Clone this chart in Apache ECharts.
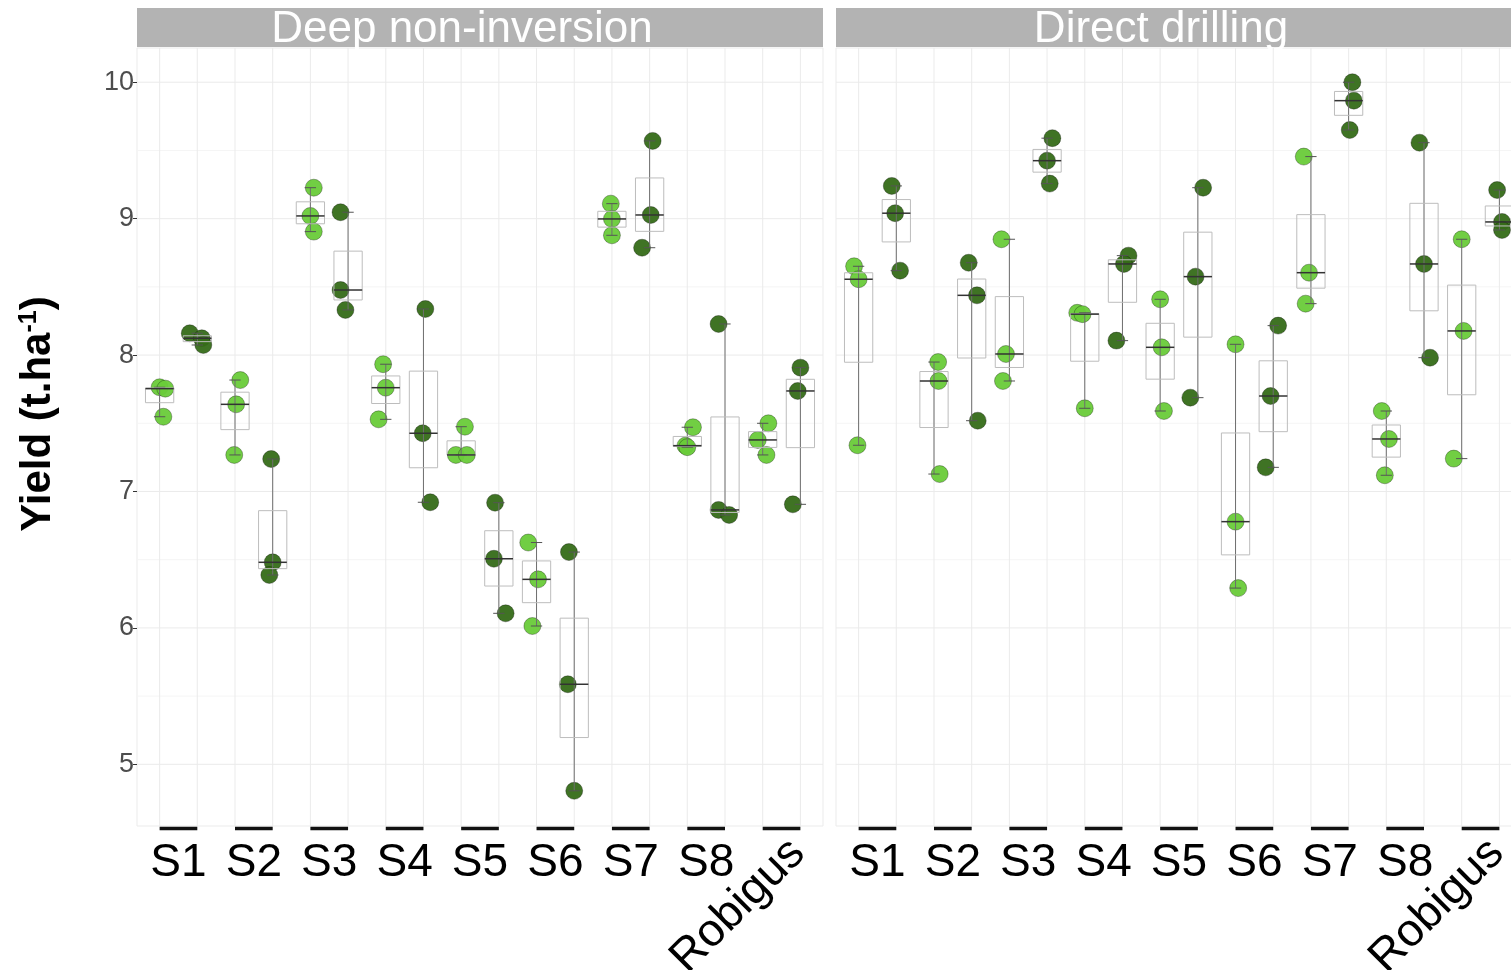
<!DOCTYPE html>
<html><head><meta charset="utf-8">
<script src="https://cdn.jsdelivr.net/npm/echarts@6/dist/echarts.min.js"></script>
<style>html,body{margin:0;padding:0;background:#fff}#c{width:1511px;height:970px}</style>
</head><body><div id="c"></div>
<script>
// ---------------- DATA ----------------
const genotypes = ['S1','S2','S3','S4','S5','S6','S7','S8','Robigus'];
const panelTitles = ['Deep non-inversion','Direct drilling'];
const yTicks = [5,6,7,8,9,10];
const yMinor = [5.5,6.5,7.5,8.5,9.5];

// Deep non-inversion: light-green group and dark-green group (3 plots each)
const dniLight = [
  [7.764,7.754,7.548],[7.817,7.639,7.268],[9.227,9.020,8.905],
  [7.933,7.761,7.529],[7.475,7.268,7.268],[6.626,6.356,6.014],
  [9.110,8.998,8.878],[7.471,7.336,7.325],[7.500,7.378,7.268]
];
const dniLightJitter = [
  [0,0.15,0.10],[0.14,0.03,-0.02],[0.09,0,0.09],[-0.07,0,-0.19],[0.10,-0.14,0.15],
  [-0.22,0.04,-0.11],[-0.03,0,0],[0.15,-0.05,0],[0.15,-0.13,0.10]
];
const dniDark = [
  [8.160,8.123,8.074],[7.238,6.481,6.388],[9.047,8.477,8.331],
  [8.338,7.427,6.921],[6.918,6.507,6.107],[6.556,5.587,4.806],
  [9.570,9.027,8.787],[8.228,6.865,6.828],[7.908,7.737,6.906]
];
const dniDarkJitter = [
  [-0.20,0.12,0.16],[-0.04,0,-0.09],[-0.20,-0.20,-0.07],[0.05,-0.02,0.18],[-0.10,-0.13,0.18],
  [-0.14,-0.17,0],[0.08,0.03,-0.20],[-0.17,-0.17,0.11],[0,-0.07,-0.20]
];

// Direct drilling
const ddLight = [
  [8.651,8.556,7.339],[7.949,7.810,7.128],[8.849,8.008,7.810],
  [8.310,8.300,7.610],[8.409,8.057,7.590],[8.079,6.779,6.292],
  [9.455,8.604,8.377],[7.590,7.385,7.119],[8.849,8.177,7.241]
];
const ddLightJitter = [
  [-0.12,0,-0.03],[0.11,0.12,0.15],[-0.21,-0.09,-0.17],[-0.20,-0.06,0],[0,0.04,0.10],
  [0,0,0.07],[-0.19,-0.05,-0.14],[-0.12,0.07,-0.04],[0,0.05,-0.21]
];
const ddDark = [
  [9.240,9.040,8.619],[8.677,8.438,7.519],[9.590,9.425,9.257],
  [8.729,8.668,8.106],[9.227,8.575,7.688],[8.216,7.700,7.177],
  [10.000,9.865,9.650],[9.557,8.668,7.981],[9.210,8.976,8.917]
];
const ddDarkJitter = [
  [-0.12,-0.03,0.10],[-0.08,0.14,0.16],[0.14,0,0.07],[0.16,0.04,-0.16],[0.14,-0.06,-0.20],
  [0.13,-0.07,-0.20],[0.10,0.14,0.03],[-0.12,0,0.16],[-0.06,0.07,0.07]
];

// ---------------- CHART ----------------
const FONT = '"Liberation Sans", Arial, Helvetica, sans-serif';
const LIGHT = '#69cb39', DARK = '#356c18';
const X_MIN = 0.4, X_MAX = 18.6, Y_MIN = 4.548, Y_MAX = 10.251;
const panels = [
  {light: dniLight, lightJ: dniLightJitter, dark: dniDark, darkJ: dniDarkJitter},
  {light: ddLight, lightJ: ddLightJitter, dark: ddDark, darkJ: ddDarkJitter}
];
const gridRects = [{left:137, top:48, width:686, height:778},{left:836, top:48, width:686, height:778}];

function quant(s, p){ const h=(s.length-1)*p, lo=Math.floor(h), hi=Math.ceil(h); return s[lo]+(h-lo)*(s[hi]-s[lo]); }
function boxStats(vals){ const s=[...vals].sort((a,b)=>a-b); return [s[0],quant(s,.25),quant(s,.5),quant(s,.75),s[s.length-1]]; }

const pairCenters = genotypes.map((g,k)=>2*k+1.5);
const positions = genotypes.flatMap((g,k)=>[2*k+1, 2*k+2]);

const grid=[], xAxis=[], yAxis=[], series=[];
panels.forEach((P,i)=>{
  grid.push(Object.assign({show:true, borderColor:'#ebebeb', borderWidth:1, backgroundColor:'#ffffff',
    outerBoundsMode:'none', containLabel:false}, gridRects[i]));
  xAxis.push({gridIndex:i, type:'value', min:X_MIN, max:X_MAX, position:'bottom',
    axisLine:{show:false}, axisTick:{show:false}, splitLine:{show:false},
    axisLabel:{customValues: pairCenters.slice(0,8), formatter: v=>genotypes[Math.round((v-1.5)/2)],
      fontSize:46, color:'#000', fontFamily:FONT, margin:14}});
  xAxis.push({gridIndex:i, type:'value', min:X_MIN, max:X_MAX, position:'bottom', offset:0,
    axisLine:{show:false}, axisTick:{show:false}, splitLine:{show:false},
    axisLabel:{customValues: pairCenters.slice(8), formatter: ()=>genotypes[8],
      rotate:45, verticalAlign:'top', fontSize:46, color:'#000', fontFamily:FONT, margin:4}});
  const y = {gridIndex:i, type:'value', min:Y_MIN, max:Y_MAX,
    axisLine:{show:false}, splitLine:{show:false},
    axisTick:{show:i===0, customValues:yTicks, length:4, lineStyle:{color:'#333', width:1}},
    axisLabel:{show:i===0, customValues:yTicks, fontSize:27, color:'#4d4d4d', fontFamily:FONT, margin:3}};
  if(i===0){
    Object.assign(y,{name:'Yield (t.ha{sup|-1})', nameLocation:'middle', nameGap:78,
      nameTextStyle:{fontSize:42, fontWeight:'bold', color:'#000', fontFamily:FONT, padding:[0,0,0,46],
        rich:{sup:{fontSize:25, fontWeight:'bold', color:'#000', fontFamily:FONT, verticalAlign:'top'}}}});
  }
  yAxis.push(y);

  // grid lines
  const gl = yTicks.map(v=>[0,v,1]).concat(yMinor.map(v=>[0,v,0])).concat(positions.map(p=>[1,p,1]));
  series.push({type:'custom', xAxisIndex:2*i, yAxisIndex:i, silent:true, z:1, data:gl,
    renderItem:(params, api)=>{
      const cs=params.coordSys, kind=api.value(0), v=api.value(1), major=api.value(2);
      if(kind===0){ const yy=api.coord([X_MIN+1,v])[1];
        return {type:'line', shape:{x1:cs.x,y1:yy,x2:cs.x+cs.width,y2:yy}, style:{stroke: major?'#ebebeb':'#f5f5f5', lineWidth:1}}; }
      const xx=api.coord([v,Y_MIN+1])[0];
      return {type:'line', shape:{x1:xx,y1:cs.y,x2:xx,y2:cs.y+cs.height}, style:{stroke:'#ebebeb', lineWidth:1}};
    }});

  // points
  const lightPts = genotypes.flatMap((g,k)=>P.light[k].map((v,j)=>[2*k+1+P.lightJ[k][j], v]));
  const darkPts = genotypes.flatMap((g,k)=>P.dark[k].map((v,j)=>[2*k+2+P.darkJ[k][j], v]));
  [[lightPts,LIGHT],[darkPts,DARK]].forEach(([d,c])=>{
    series.push({type:'scatter', xAxisIndex:2*i, yAxisIndex:i, z:3, symbolSize:17, data:d,
      itemStyle:{color:c, opacity:0.95, borderColor:'rgba(0,0,0,0.45)', borderWidth:0.7}, silent:true});
  });

  // boxplots (drawn over the points, transparent box)
  const boxes = genotypes.flatMap((g,k)=>[[2*k+1, ...boxStats(P.light[k])],[2*k+2, ...boxStats(P.dark[k])]]);
  series.push({type:'custom', xAxisIndex:2*i, yAxisIndex:i, z:4, silent:true, data:boxes,
    renderItem:(params, api)=>{
      const x=api.value(0), mn=api.value(1), q1=api.value(2), md=api.value(3), q3=api.value(4), mx=api.value(5);
      const c=(xx,yy)=>api.coord([xx,yy]);
      const half=0.375, cap=0.15;
      const pMin=c(x,mn), pMax=c(x,mx), bl=c(x-half,q3), br=c(x+half,q1);
      const mdl=c(x-half,md), mdr=c(x+half,md);
      const cmin1=c(x-cap,mn), cmin2=c(x+cap,mn), cmax1=c(x-cap,mx), cmax2=c(x+cap,mx);
      return {type:'group', children:[
        {type:'line', shape:{x1:pMin[0],y1:pMin[1],x2:pMax[0],y2:pMax[1]}, style:{stroke:'#6e6e6e', lineWidth:1}},
        {type:'line', shape:{x1:cmin1[0],y1:cmin1[1],x2:cmin2[0],y2:cmin2[1]}, style:{stroke:'#555', lineWidth:1}},
        {type:'line', shape:{x1:cmax1[0],y1:cmax1[1],x2:cmax2[0],y2:cmax2[1]}, style:{stroke:'#555', lineWidth:1}},
        {type:'rect', shape:{x:bl[0], y:bl[1], width:br[0]-bl[0], height:br[1]-bl[1]}, style:{fill:'none', stroke:'#bdbdbd', lineWidth:1}},
        {type:'line', shape:{x1:mdl[0],y1:mdl[1],x2:mdr[0],y2:mdr[1]}, style:{stroke:'#333', lineWidth:1.5}}
      ]};
    }});

  // black bars under each genotype pair
  series.push({type:'custom', xAxisIndex:2*i, yAxisIndex:i, z:5, silent:true, clip:false,
    data: genotypes.map((g,k)=>[2*k+1, 2*k+2]),
    renderItem:(params, api)=>{
      const cs=params.coordSys, a=api.coord([api.value(0),Y_MIN])[0], b=api.coord([api.value(1),Y_MIN])[0];
      const yy=cs.y+cs.height+2.5;
      return {type:'line', shape:{x1:a,y1:yy,x2:b,y2:yy}, style:{stroke:'#111', lineWidth:3.5}};
    }});
});

const graphic = [];
panelTitles.forEach((t,i)=>{
  const g=gridRects[i];
  graphic.push({type:'rect', left:g.left, top:8, shape:{width:g.width, height:39}, style:{fill:'#b3b3b3'}, silent:true, z:0});
  graphic.push({type:'text', x:g.left+g.width/2-18, y:30, style:{text:t, fill:'#ffffff', font:'44px '+FONT, textAlign:'center', textVerticalAlign:'middle'}, silent:true, z:1});
});

const chart = echarts.init(document.getElementById('c'), null, {renderer:'canvas'});
chart.setOption({animation:false, backgroundColor:'#ffffff', grid, xAxis, yAxis, series, graphic});
</script></body></html>
